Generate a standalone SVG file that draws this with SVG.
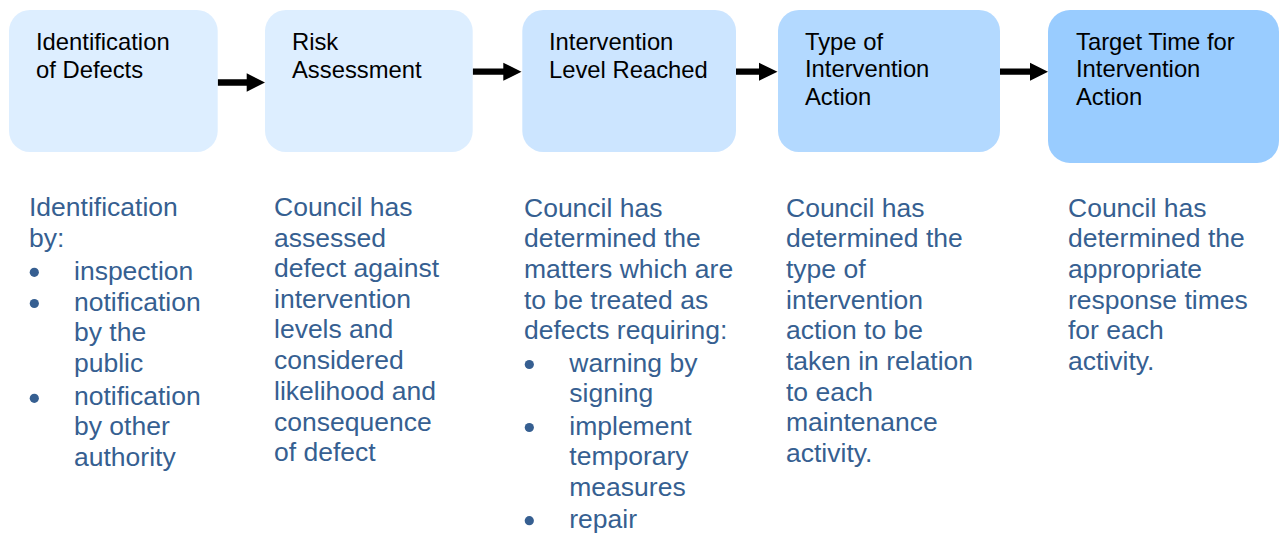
<svg xmlns="http://www.w3.org/2000/svg" width="1284" height="533" viewBox="0 0 1284 533">
<style>
.box{stroke:none}
.bt{font-family:"Liberation Sans",Arial,sans-serif;font-size:23.8px;fill:#000}
.dt{font-family:"Liberation Sans",Arial,sans-serif;font-size:26.5px;fill:#365F91}
.bul{fill:#365F91}
.arr{fill:#000}
</style>
<rect width="1284" height="533" fill="#fff"/>
<g id="connectors">
<path class="arr" d="M217.7,79.3 H246.7 V73.3 L265,82.5 L246.7,91.7 V85.7 H217.7 Z"/>
<path class="arr" d="M472.7,68.6 H503.3 V62.7 L521.5,71.7 L503.3,80.7 V74.8 H472.7 Z"/>
<path class="arr" d="M736,68.6 H759 V62.7 L777.5,71.7 L759,80.7 V74.8 H736 Z"/>
<path class="arr" d="M1000,68.6 H1030 V62.7 L1048,71.7 L1030,80.7 V74.8 H1000 Z"/>
</g>
<g id="node1">
<rect class="box" x="9" y="10" width="208.7" height="142" rx="21" fill="#DDEEFF"/>
<text class="bt" x="36" y="49.5">Identification</text>
<text class="bt" x="36" y="77.5">of Defects</text>
</g>
<g id="node2">
<rect class="box" x="265" y="10" width="207.7" height="142" rx="21" fill="#DDEEFF"/>
<text class="bt" x="292" y="49.5">Risk</text>
<text class="bt" x="292" y="77.5">Assessment</text>
</g>
<g id="node3">
<rect class="box" x="522.3" y="10" width="213.7" height="142" rx="21" fill="#CCE5FF"/>
<text class="bt" x="549" y="49.5">Intervention</text>
<text class="bt" x="549" y="77.5">Level Reached</text>
</g>
<g id="node4">
<rect class="box" x="778" y="10" width="222" height="142" rx="21" fill="#B3D9FF"/>
<text class="bt" x="805" y="49.5">Type of</text>
<text class="bt" x="805" y="77">Intervention</text>
<text class="bt" x="805" y="104.5">Action</text>
</g>
<g id="node5">
<rect class="box" x="1048" y="10" width="231" height="153" rx="22" fill="#99CCFF"/>
<text class="bt" x="1076" y="49.5">Target Time for</text>
<text class="bt" x="1076" y="77">Intervention</text>
<text class="bt" x="1076" y="104.5">Action</text>
</g>
<g id="desc1">
<text class="dt" x="29" y="216">Identification</text>
<text class="dt" x="29" y="246.5">by:</text>
<circle class="bul" cx="34.3" cy="272.3" r="4.6"/>
<text class="dt" x="74" y="279.5">inspection</text>
<circle class="bul" cx="34.3" cy="303.5" r="4.6"/>
<text class="dt" x="74" y="310.8">notification</text>
<text class="dt" x="74" y="341">by the</text>
<text class="dt" x="74" y="371.7">public</text>
<circle class="bul" cx="34.3" cy="398.3" r="4.6"/>
<text class="dt" x="74" y="404.5">notification</text>
<text class="dt" x="74" y="435.2">by other</text>
<text class="dt" x="74" y="465.8">authority</text>
</g>
<g id="desc2">
<text class="dt" x="274" y="216">Council has</text>
<text class="dt" x="274" y="246.5">assessed</text>
<text class="dt" x="274" y="277">defect against</text>
<text class="dt" x="274" y="307.7">intervention</text>
<text class="dt" x="274" y="338.4">levels and</text>
<text class="dt" x="274" y="369">considered</text>
<text class="dt" x="274" y="399.7">likelihood and</text>
<text class="dt" x="274" y="430.5">consequence</text>
<text class="dt" x="274" y="461.2">of defect</text>
</g>
<g id="desc3">
<text class="dt" x="524" y="216.7">Council has</text>
<text class="dt" x="524" y="247.4">determined the</text>
<text class="dt" x="524" y="278">matters which are</text>
<text class="dt" x="524" y="308.7">to be treated as</text>
<text class="dt" x="524" y="339.4">defects requiring:</text>
<circle class="bul" cx="529.3" cy="364.5" r="4.6"/>
<text class="dt" x="569.3" y="371.7">warning by</text>
<text class="dt" x="569.3" y="402">signing</text>
<circle class="bul" cx="529.3" cy="427.5" r="4.6"/>
<text class="dt" x="569.3" y="434.8">implement</text>
<text class="dt" x="569.3" y="465.3">temporary</text>
<text class="dt" x="569.3" y="495.8">measures</text>
<circle class="bul" cx="529.3" cy="520.7" r="4.6"/>
<text class="dt" x="569.3" y="527.5">repair</text>
</g>
<g id="desc4">
<text class="dt" x="786" y="216.7">Council has</text>
<text class="dt" x="786" y="247.4">determined the</text>
<text class="dt" x="786" y="278">type of</text>
<text class="dt" x="786" y="308.7">intervention</text>
<text class="dt" x="786" y="339.4">action to be</text>
<text class="dt" x="786" y="370">taken in relation</text>
<text class="dt" x="786" y="400.7">to each</text>
<text class="dt" x="786" y="431.4">maintenance</text>
<text class="dt" x="786" y="462">activity.</text>
</g>
<g id="desc5">
<text class="dt" x="1068" y="216.7">Council has</text>
<text class="dt" x="1068" y="247.4">determined the</text>
<text class="dt" x="1068" y="278">appropriate</text>
<text class="dt" x="1068" y="308.7">response times</text>
<text class="dt" x="1068" y="339.4">for each</text>
<text class="dt" x="1068" y="370">activity.</text>
</g>
</svg>
